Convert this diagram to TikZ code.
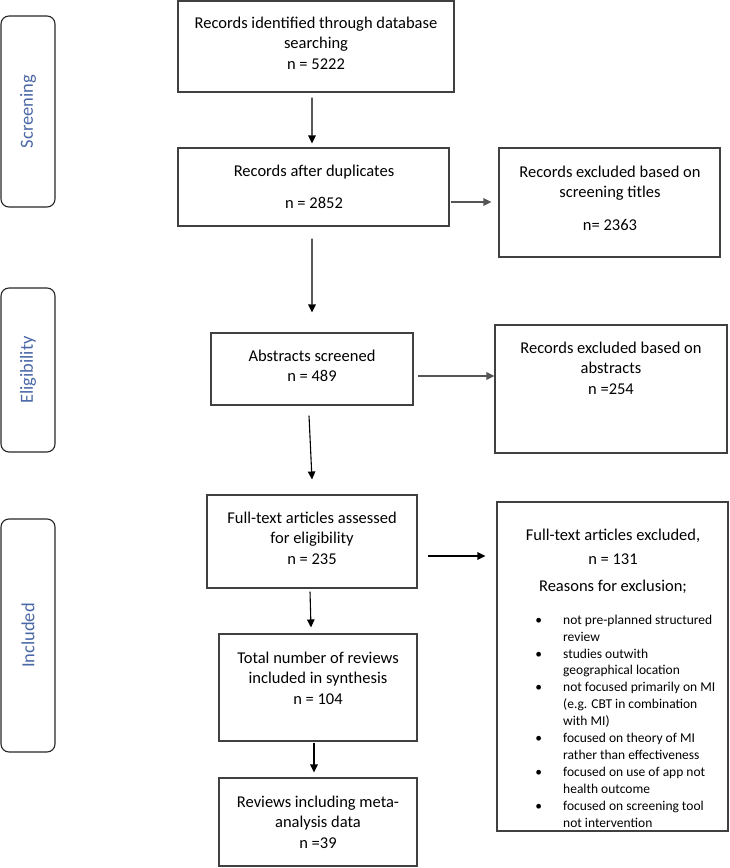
\documentclass[tikz,border=0pt]{standalone}
\usepackage{fontspec}
\setmainfont{Carlito}
\usetikzlibrary{arrows.meta}
\definecolor{lblue}{HTML}{4A68A6}
\definecolor{bordr}{HTML}{404040}
\definecolor{agray}{HTML}{555555}
\tikzset{
  box/.style={draw=bordr, line width=1.1bp, inner sep=0pt},
  phase/.style={draw=black!85, line width=1.1bp, rounded corners=8bp, inner sep=0pt,
    rotate=90, text=lblue, font=\fontsize{18.5bp}{22bp}\selectfont},
  txt/.style={anchor=north, align=center, inner sep=0pt, font=\fontsize{16.5bp}{20.5bp}\selectfont},
  bul/.style={anchor=north west, align=left, inner sep=0pt, font=\fontsize{13.5bp}{16.9bp}\selectfont},
  arr/.style={-{Triangle[length=8bp,width=7.5bp]}, line width=1.1bp, black},
  garr/.style={arr, draw=agray, line width=1.4bp}
}
\newcommand{\fl}{\rule{0pt}{14bp}}
\newcommand{\bl}{\rule{0pt}{12bp}\llap{•\hspace{21bp}}}
\begin{document}
\begin{tikzpicture}[x=1bp,y=-1bp]
\useasboundingbox (0,0) rectangle (730,868);
% phase labels
\node[phase, minimum width=191bp, minimum height=54bp] (s1) at (28,111.5) {Screening};
\node[phase, minimum width=164bp, minimum height=54bp] (s2) at (28,370) {Eligibility};
\node[phase, minimum width=233bp, minimum height=54bp] (s3) at (28,635.5) {Included};
% main column
\node[box, minimum width=276bp, minimum height=91bp] (b1) at (316,46.5) {};
\node[txt] (t1) at (316,14) {\fl Records identified through database\\searching\\n = 5222};
\node[box, minimum width=271bp, minimum height=78bp] (b2) at (313.5,187) {};
\node[txt] (t2) at (314,162) {\fl Records after duplicates\\[11.5bp]n = 2852};
\node[box, minimum width=202bp, minimum height=72bp] (b3) at (312,369) {};
\node[txt] (t3) at (312,347) {\fl Abstracts screened\\n = 489};
\node[box, minimum width=210bp, minimum height=93bp] (b4) at (312,541.5) {};
\node[txt] (t4) at (312,509) {\fl Full-text articles assessed\\for eligibility\\n = 235};
\node[box, minimum width=198bp, minimum height=107bp] (b5) at (318,687.5) {};
\node[txt] (t5) at (318,649) {\fl Total number of reviews\\included in synthesis\\n = 104};
\node[box, minimum width=198bp, minimum height=88bp] (b6) at (318,822) {};
\node[txt] (t6) at (318,793) {\fl Reviews including meta-\\analysis data\\n =39};
% right column
\node[box, minimum width=221bp, minimum height=109bp] (r1) at (609.5,202.5) {};
\node[txt] (u1) at (610,163) {\fl Records excluded based on\\screening titles\\[12bp]n= 2363};
\node[box, minimum width=232bp, minimum height=128bp] (r2) at (611,389) {};
\node[txt] (u2) at (611,339) {\fl Records excluded based on\\abstracts\\n =254};
\node[box, minimum width=231bp, minimum height=329bp] (r3) at (612.5,666.5) {};
\node[txt] (u3) at (613,526) {\fl Full-text articles excluded,\\[3.5bp]n = 131\\[6.5bp]Reasons for exclusion;};
\node[bul] (u4) at (563,612) {\bl not pre-planned structured\\review\\\bl studies outwith\\geographical location\\\bl not focused primarily on MI\\(e.g. CBT in combination\\with MI)\\\bl focused on theory of MI\\rather than effectiveness\\\bl focused on use of app not\\health outcome\\\bl focused on screening tool\\not intervention};
% vertical arrows
\draw[arr] ([xshift=-4bp,yshift=-5bp]b1.south) -- ([xshift=-1.5bp,yshift=4bp]b2.north);
\draw[arr] ([xshift=-1.5bp,yshift=-12bp]b2.south) -- ([yshift=20bp]b3.north);
\draw[arr] ([xshift=-3bp,yshift=-10bp]b3.south) -- ([yshift=15bp]b4.north);
\draw[arr] ([xshift=-2bp,yshift=-3bp]b4.south) -- ([xshift=-7bp,yshift=6bp]b5.north);
\draw[arr] ([xshift=-4bp,yshift=-1.5bp]b5.south) -- ([xshift=-4bp,yshift=5bp]b6.north);
% horizontal arrows
\draw[garr] ([xshift=1bp]b2.east |- 0,202) -- ([xshift=-7bp]r1.west |- 0,202);
\draw[garr] ([xshift=4bp]b3.east |- 0,376) -- (r2.west |- 0,376);
\draw[arr] ([xshift=10bp]b4.east |- 0,556) -- ([xshift=-11bp]r3.west |- 0,556);
\end{tikzpicture}
\end{document}
